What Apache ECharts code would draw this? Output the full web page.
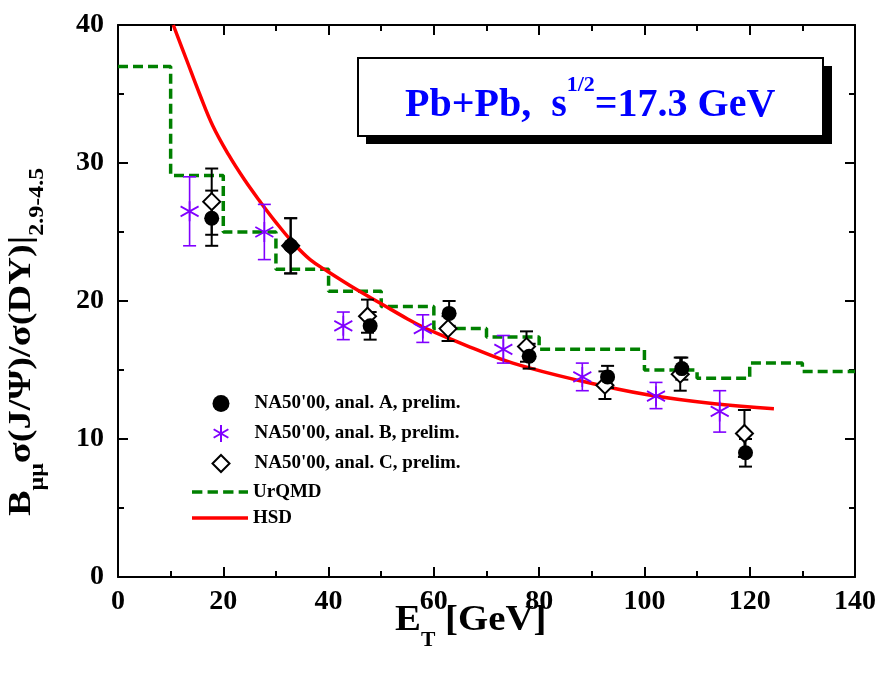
<!DOCTYPE html>
<html><head><meta charset="utf-8">
<script src="https://cdn.jsdelivr.net/npm/echarts@6/dist/echarts.min.js"></script>
<style>html,body{margin:0;padding:0;background:#fff}#c{width:879px;height:688px}</style>
</head><body><div id="c"></div>
<script>
// ---------- data ----------
const xTickValues = [0, 20, 40, 60, 80, 100, 120, 140];
const yTickValues = [0, 10, 20, 30, 40];

const anaA_x  = [17.8, 32.8, 47.9, 62.9, 78.1, 93.0, 107.1, 119.2];
const anaA_y  = [26.0, 24.0, 18.2, 19.1, 16.0, 14.5, 15.1, 9.0];
const anaA_lo = [24.0, 22.0, 17.2, 18.2, 15.1, 13.7, 14.3, 8.0];
const anaA_hi = [28.0, 26.0, 19.2, 20.0, 16.9, 15.3, 15.9, 10.0];

const anaB_x  = [13.6, 27.8, 42.8, 57.9, 73.2, 88.2, 102.2, 114.3];
const anaB_y  = [26.5, 25.0, 18.2, 18.0, 16.5, 14.5, 13.1, 12.0];
const anaB_lo = [24.0, 23.0, 17.2, 17.0, 15.5, 13.5, 12.2, 10.5];
const anaB_hi = [29.0, 27.0, 19.2, 19.0, 17.5, 15.5, 14.1, 13.5];

const anaC_x  = [17.8, 32.8, 47.4, 62.7, 77.6, 92.5, 106.8, 119.0];
const anaC_y  = [27.2, 24.0, 18.9, 18.0, 16.7, 13.9, 14.7, 10.4];
const anaC_lo = [24.8, 22.0, 17.7, 17.1, 15.6, 12.9, 13.5, 8.7];
const anaC_hi = [29.6, 26.0, 20.1, 18.9, 17.8, 14.9, 15.9, 12.1];

const urqmd_x = [0, 10, 20, 30, 40, 50, 60, 70, 80, 90, 100, 110, 120, 130, 140];
const urqmd_y = [37.0, 29.1, 25.0, 22.3, 20.7, 19.6, 18.0, 17.4, 16.5, 16.5, 15.0, 14.4, 15.5, 14.9, 14.9];

const hsd_x = [10.5, 13, 15.5, 18, 21, 24, 27, 30, 33.3, 36.5, 40, 45, 50, 55, 58, 62.5, 66.3, 75, 88, 100.6, 113.3, 124.6];
const hsd_y = [40.0, 37.5, 35.0, 32.7, 30.6, 28.8, 27.2, 25.7, 24.2, 23.0, 22.1, 20.9, 19.8, 18.7, 18.1, 17.35, 16.75, 15.5, 14.2, 13.2, 12.55, 12.2];

const names = ["NA50'00, anal. A, prelim.", "NA50'00, anal. B, prelim.", "NA50'00, anal. C, prelim.", "UrQMD", "HSD"];

// ---------- helpers ----------
const FONT = '"Liberation Serif", "Times New Roman", serif';
const mctx = document.createElement('canvas').getContext('2d');
function measure(t, font) { mctx.font = font; return mctx.measureText(t).width; }
function runElems(runs, x0, base, color) {
  let x = x0; const out = [];
  for (const r of runs) {
    const font = 'bold ' + r.s + 'px ' + FONT;
    out.push({ type: 'text', x: x, y: base + (r.dy || 0) - 0.34 * r.s, z: 100,
      style: { text: r.t, font: font, fill: color, textAlign: 'left', textVerticalAlign: 'middle', verticalAlign: 'middle' } });
    x += measure(r.t, font);
  }
  return out;
}
const zip = (xs, ys) => xs.map((x, i) => [x, ys[i]]);

function errSeries(xs, lo, hi, color, lw, cap) {
  return {
    type: 'custom', silent: true, z: 3,
    data: xs.map((x, i) => [x, lo[i], hi[i]]),
    encode: { x: 0, y: [1, 2] },
    renderItem: function (params, api) {
      const x = api.value(0);
      const p1 = api.coord([x, api.value(1)]);
      const p2 = api.coord([x, api.value(2)]);
      const h = cap / 2;
      const st = { stroke: color, lineWidth: lw };
      return { type: 'group', children: [
        { type: 'line', shape: { x1: p1[0], y1: p1[1], x2: p2[0], y2: p2[1] }, style: st },
        { type: 'line', shape: { x1: p1[0] - h, y1: p1[1], x2: p1[0] + h, y2: p1[1] }, style: st },
        { type: 'line', shape: { x1: p2[0] - h, y1: p2[1], x2: p2[0] + h, y2: p2[1] }, style: st }
      ] };
    }
  };
}

const axisCommon = {
  type: 'value',
  axisLine: { show: true, onZero: false, lineStyle: { color: '#000', width: 2 } },
  axisTick: { show: true, inside: true, length: 10, lineStyle: { color: '#000', width: 2 } },
  minorTick: { show: true, splitNumber: 2, length: 6, lineStyle: { color: '#000', width: 2 } },
  splitLine: { show: false },
  minorSplitLine: { show: false }
};
const labelStyle = { fontSize: 28, fontWeight: 'bold', fontFamily: FONT, color: '#000' };

const STAR = 'path://M0,-10L0,10M-8.66,-5L8.66,5M-8.66,5L8.66,-5';
const DASH_ICON = 'path://M0,0h10v3.5h-10zM15,0h10v3.5h-10zM30,0h10v3.5h-10zM45,0h9v3.5h-9z';
const SOLID_ICON = 'path://M0,0h56v3.5h-56z';

// ---------- titles ----------
const titleRuns = runElems([
  { t: 'Pb+Pb,  s', s: 40 }, { t: '1/2', s: 22, dy: -26 }, { t: '=17.3 GeV', s: 40 }
], 405, 119, '#0000ff');
const xTitleRuns = runElems([
  { t: 'E', s: 36 }, { t: 'T', s: 20, dy: 15 }, { t: ' [GeV]', s: 36 }
], 0, 0, '#000');
const yTitleRuns = runElems([
  { t: 'B', s: 32 }, { t: 'μμ', s: 20, dy: 12 }, { t: 'σ(J/Ψ)/σ(DY)|', s: 32 }, { t: '2.9-4.5', s: 20, dy: 12 }
], 0, 0, '#000');

const chart = echarts.init(document.getElementById('c'), null, { renderer: 'canvas' });
chart.setOption({
  animation: false,
  backgroundColor: '#fff',
  grid: { left: 118, right: 24, top: 25, bottom: 111, containLabel: false, outerBoundsMode: 'none' },
  xAxis: [
    Object.assign({}, axisCommon, { min: xTickValues[0], max: xTickValues[xTickValues.length - 1], interval: xTickValues[1] - xTickValues[0], position: 'bottom',
      axisLabel: Object.assign({ margin: 11 }, labelStyle) }),
    Object.assign({}, axisCommon, { min: xTickValues[0], max: xTickValues[xTickValues.length - 1], interval: xTickValues[1] - xTickValues[0], position: 'top',
      axisLabel: { show: false } })
  ],
  yAxis: [
    Object.assign({}, axisCommon, { min: yTickValues[0], max: yTickValues[yTickValues.length - 1], interval: yTickValues[1] - yTickValues[0], position: 'left',
      axisLabel: Object.assign({ margin: 14, padding: [0, 0, 16, 0] }, labelStyle) }),
    Object.assign({}, axisCommon, { min: yTickValues[0], max: yTickValues[yTickValues.length - 1], interval: yTickValues[1] - yTickValues[0], position: 'right',
      axisLabel: { show: false } })
  ],
  legend: [
    {
      data: names.slice(0, 3), orient: 'vertical', left: 211.5, top: 394, padding: 0,
      itemWidth: 17, itemHeight: 17, itemGap: 11, selectedMode: false,
      textStyle: { fontSize: 19, lineHeight: 19, fontWeight: 'bold', fontFamily: FONT, color: '#000', padding: [0, 0, 0, 20] }
    },
    {
      data: [{ name: names[3], icon: DASH_ICON }, { name: names[4], icon: SOLID_ICON }],
      orient: 'vertical', left: 192, top: 482.5, padding: 0,
      itemWidth: 56, itemHeight: 3.5, itemGap: 7, selectedMode: false, symbolKeepAspect: false,
      itemStyle: { borderWidth: 0 },
      textStyle: { fontSize: 19, lineHeight: 19, fontWeight: 'bold', fontFamily: FONT, color: '#000' }
    }
  ],
  graphic: [
    { type: 'rect', z: 90, shape: { x: 366, y: 66, width: 466, height: 78 }, style: { fill: '#000' } },
    { type: 'rect', z: 91, shape: { x: 358, y: 58, width: 465, height: 78 }, style: { fill: '#fff', stroke: '#000', lineWidth: 2 } },
    ...titleRuns,
    { type: 'group', x: 395, y: 633, scaleX: 1.08, children: xTitleRuns },
    { type: 'group', x: 33, y: 516, rotation: Math.PI / 2, scaleX: 1.2, children: yTitleRuns }
  ],
  series: [
    { name: names[3], type: 'line', data: zip(urqmd_x, urqmd_y), step: 'end', symbol: 'none', z: 2,
      lineStyle: { color: '#008000', width: 3.5, type: [10, 5] }, itemStyle: { color: '#008000' } },
    { name: names[4], type: 'line', data: zip(hsd_x, hsd_y), smooth: 0.4, symbol: 'none', z: 2,
      lineStyle: { color: '#ff0000', width: 3.5 }, itemStyle: { color: '#ff0000' } },
    errSeries(anaA_x, anaA_lo, anaA_hi, '#000', 2, 13),
    errSeries(anaC_x, anaC_lo, anaC_hi, '#000', 2, 13),
    errSeries(anaB_x, anaB_lo, anaB_hi, '#8000ff', 1.6, 13),
    { name: names[2], type: 'scatter', data: zip(anaC_x, anaC_y), symbol: 'diamond', symbolSize: 17, z: 4,
      itemStyle: { color: '#fff', borderColor: '#000', borderWidth: 2, opacity: 1 } },
    { name: names[0], type: 'scatter', data: zip(anaA_x, anaA_y), symbol: 'circle', symbolSize: 15, z: 5,
      itemStyle: { color: '#000', opacity: 1 } },
    { name: names[1], type: 'scatter', data: zip(anaB_x, anaB_y), symbol: STAR, symbolSize: [18, 20], z: 5,
      itemStyle: { color: 'rgba(0,0,0,0)', borderColor: '#8000ff', borderWidth: 1.8, opacity: 1 } }
  ]
});
</script></body></html>
